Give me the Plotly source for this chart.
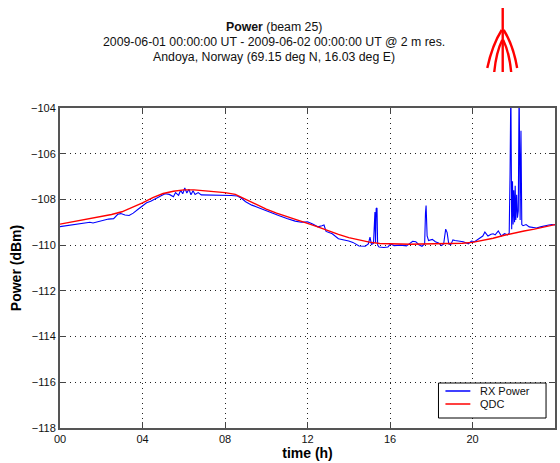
import plotly.graph_objects as go

# ---------------- data ----------------
qdc_hours = [0, 0.5, 1, 1.5, 2, 2.5, 3, 3.5, 4, 4.5, 5, 5.5, 6, 6.5, 7, 7.5, 8, 8.5,
             9, 9.5, 10, 10.5, 11, 11.5, 12, 12.5, 13, 13.5, 14, 14.5, 15, 15.5, 16,
             16.5, 17, 17.5, 18, 18.5, 19, 19.5, 20, 20.5, 21, 21.5, 22, 22.5, 23, 23.5, 24]
qdc_power = [-109.08, -109.0, -108.93, -108.85, -108.77, -108.66, -108.54, -108.35, -108.15,
             -107.92, -107.74, -107.64, -107.58, -107.58, -107.62, -107.66, -107.7, -107.78,
             -108.0, -108.22, -108.42, -108.6, -108.76, -108.9, -109.05, -109.2, -109.38,
             -109.53, -109.67, -109.78, -109.87, -109.93, -109.95, -109.96, -109.96, -109.95,
             -109.95, -109.95, -109.94, -109.92, -109.88, -109.8, -109.7, -109.58, -109.47,
             -109.38, -109.3, -109.2, -109.1]

rx_hours = [0.0, 0.3, 0.6, 0.9, 1.2, 1.45, 1.6, 1.8, 2.1, 2.35, 2.6, 2.8, 2.95, 3.15, 3.35,
            3.55, 3.8, 4.0, 4.2, 4.4, 4.7, 4.95, 5.1, 5.3, 5.5, 5.6, 5.75, 5.85, 5.95, 6.05,
            6.15, 6.25, 6.35, 6.45, 6.55, 6.7, 6.85, 7.2, 7.6, 7.9, 8.3, 8.6, 8.8, 9.0, 9.3,
            9.6, 10.0, 10.3, 10.6, 11.0, 11.4, 11.7, 12.0, 12.25, 12.5, 12.7, 12.8, 12.9,
            13.2, 13.5, 13.8, 14.0, 14.2, 14.35, 14.5, 14.8, 14.95, 15.03, 15.1, 15.2, 15.27,
            15.3, 15.33, 15.37, 15.4, 15.47, 15.7, 15.9, 16.03, 16.2, 16.5, 16.8, 17.0, 17.1,
            17.25, 17.4, 17.55, 17.68, 17.72, 17.75, 17.8, 17.87, 18.05, 18.2, 18.35, 18.5,
            18.6, 18.7, 18.77, 18.85, 18.95, 19.05, 19.15, 19.35, 19.55, 19.8, 19.95, 20.1,
            20.35, 20.5, 20.6, 20.75, 20.9, 21.0, 21.1, 21.25, 21.4, 21.55, 21.7, 21.78,
            21.82, 21.86, 21.9, 21.94, 21.97, 22.0, 22.04, 22.07, 22.1, 22.14, 22.18, 22.22,
            22.26, 22.31, 22.35, 22.39, 22.45, 22.6, 22.75, 22.9, 23.1, 23.3, 23.5, 23.7,
            23.85, 24.0]
rx_power = [-109.19, -109.15, -109.1, -109.08, -109.05, -109.0, -109.03, -108.98, -108.9,
            -108.86, -108.84, -108.65, -108.62, -108.68, -108.7, -108.6, -108.42, -108.3,
            -108.15, -108.08, -107.92, -107.82, -107.75, -107.78, -107.88, -107.7, -107.82,
            -107.6, -107.75, -107.5, -107.72, -107.55, -107.8, -107.62, -107.78, -107.7,
            -107.8, -107.8, -107.8, -107.82, -107.83, -107.85, -107.95, -108.1, -108.25,
            -108.35, -108.5, -108.6, -108.7, -108.83, -108.95, -109.0, -108.98, -109.08,
            -109.2, -109.15, -109.12, -109.4, -109.5, -109.72, -109.76, -109.82, -109.88,
            -109.95, -110.04, -110.05, -109.95, -109.65, -109.97, -109.92, -108.55, -109.9,
            -108.4, -108.37, -110.0, -110.08, -110.1, -110.08, -109.95, -110.02, -110.0,
            -110.03, -109.92, -109.83, -109.85, -109.98, -110.05, -109.95, -108.6, -108.27,
            -109.6, -109.8, -109.75, -109.85, -109.9, -110.02, -109.95, -109.3, -109.45,
            -109.95, -109.98, -109.77, -109.8, -109.82, -109.85, -109.94, -109.82, -109.85,
            -109.68, -109.6, -109.43, -109.6, -109.52, -109.5, -109.55, -109.38, -109.6,
            -109.5, -109.55, -109.48, -106.9, -103.0, -109.3, -107.2, -109.1, -107.6, -109.0,
            -107.4, -108.9, -107.8, -108.8, -108.5, -103.0, -108.9, -105.0, -109.1, -109.15,
            -109.1, -109.2, -109.22, -109.25, -109.2, -109.15, -109.12, -109.1, -109.12]

x_tickvals = [0, 4, 8, 12, 16, 20, 24]
x_ticktext = ["00", "04", "08", "12", "16", "20", "00"]
y_tickvals = [-104, -106, -108, -110, -112, -114, -116, -118]

series_names = ["RX Power", "QDC"]
series_colors = ["#0000ff", "#ff0000"]

title_lines = ["<b>Power</b> (beam 25)",
               "2009-06-01 00:00:00 UT - 2009-06-02 00:00:00 UT @ 2 m res.",
               "Andoya, Norway (69.15 deg N, 16.03 deg E)"]

# ---------------- figure ----------------
W, H = 560, 463
L, R, T, B = 60, 3, 108, 35
pw, ph = W - L - R, H - T - B

def px(x):
    return (x - L) / pw

def py(y):
    return (H - B - y) / ph

FONT = "Liberation Sans, Arial, sans-serif"

fig = go.Figure()
fig.add_trace(go.Scatter(x=rx_hours, y=rx_power, mode="lines", name=series_names[0],
                         line=dict(color=series_colors[0], width=1.1)))
fig.add_trace(go.Scatter(x=qdc_hours, y=qdc_power, mode="lines", name=series_names[1],
                         line=dict(color=series_colors[1], width=1.4)))

axis_common = dict(showline=True, linecolor="#555555", linewidth=2, mirror="ticks",
                   ticks="inside", ticklen=6, tickcolor="#444444", tickwidth=1,
                   showgrid=True, gridcolor="#222222", gridwidth=1, griddash="1px,4px",
                   zeroline=False, tickfont=dict(family=FONT, size=11, color="#111111"))

fig.update_xaxes(range=[0, 24], tickvals=x_tickvals, ticktext=x_ticktext,
                 title=dict(text="<b>time (h)</b>", font=dict(family=FONT, size=14, color="#000"),
                            standoff=4), **axis_common)
fig.update_yaxes(range=[-118, -104], tickvals=y_tickvals,
                 title=dict(text="<b>Power (dBm)</b>", font=dict(family=FONT, size=14, color="#000"),
                            standoff=6), **axis_common)

annotations = []
for i, t in enumerate(title_lines):
    annotations.append(dict(text=t, xref="paper", yref="paper", x=px(275), y=py(27 + 15 * i),
                            xanchor="center", yanchor="middle", showarrow=False,
                            font=dict(family=FONT, size=12.3, color="#111111")))

# logo (red fountain-like shape)
def pt(x, y):
    return f"{px(x):.5f},{py(y):.5f}"

logo_paths = [
    f"M{pt(504.5, 8)} L{pt(504.5, 72)}",
    f"M{pt(503.5, 30)} Q{pt(494, 45)} {pt(489, 68)}",
    f"M{pt(504, 40)} Q{pt(498, 52)} {pt(496, 72)}",
    f"M{pt(505.5, 30)} Q{pt(515, 45)} {pt(519, 68)}",
    f"M{pt(505, 40)} Q{pt(511, 52)} {pt(513, 72)}",
]
shapes = [dict(type="path", path=p, xref="paper", yref="paper",
               line=dict(color="#ff0000", width=2.4)) for p in logo_paths]

# legend box (drawn manually to match compact layout)
shapes.append(dict(type="rect", xref="paper", yref="paper",
                   x0=px(440), x1=px(548), y0=py(418), y1=py(383),
                   line=dict(color="#000000", width=1), fillcolor="white", layer="above"))
for i, (nm, col) in enumerate(zip(series_names, series_colors)):
    yy = 391 + 13 * i
    shapes.append(dict(type="line", xref="paper", yref="paper",
                       x0=px(447), x1=px(472), y0=py(yy), y1=py(yy),
                       line=dict(color=col, width=1.5), layer="above"))
    annotations.append(dict(text=nm, xref="paper", yref="paper", x=px(480), y=py(yy),
                            xanchor="left", yanchor="middle", showarrow=False,
                            font=dict(family=FONT, size=11, color="#111111")))

fig.update_layout(
    width=W, height=H, margin=dict(l=L, r=R, t=T, b=B),
    paper_bgcolor="white", plot_bgcolor="white",
    annotations=annotations, shapes=shapes,
    showlegend=False,
)

fig.write_html("out.html")
